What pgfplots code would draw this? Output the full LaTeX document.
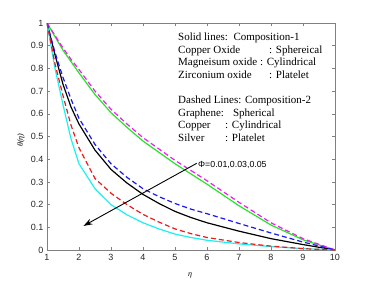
\documentclass[border=0pt]{standalone}
\usepackage{fontspec}
\setmainfont{Liberation Serif}
\newfontfamily\arial{Liberation Sans}
\usepackage{pgfplots}
\pgfplotsset{compat=1.18}
\usetikzlibrary{arrows.meta}
\definecolor{mgreen}{rgb}{0.15,0.9,0.15}
\definecolor{mblue}{rgb}{0.1,0.1,0.95}
\definecolor{mred}{rgb}{0.95,0.1,0.1}
\definecolor{mcyan}{rgb}{0.1,0.95,0.95}
\definecolor{mmag}{rgb}{0.95,0.1,0.95}
\begin{document}
\begin{tikzpicture}
\useasboundingbox (-47pt,-43pt) rectangle (329pt,250pt);
\begin{axis}[
  at={(0pt,0pt)}, anchor=south west,
  scale only axis, width=288pt, height=227pt,
  xmin=1, xmax=10, ymin=0, ymax=1,
  xtick={1,2,...,10}, ytick={0,0.1,0.2,0.3,0.4,0.5,0.6,0.7,0.8,0.9,1},
  yticklabels={0,0.1,0.2,0.3,0.4,0.5,0.6,0.7,0.8,0.9,1},
  tick align=inside, tick pos=both, major tick length=3pt,
  axis line style={draw=black!50, line width=0.5pt},
  every tick/.style={black!50, line width=0.5pt},
  /pgf/number format/assume math mode=true,
  tick label style={font=\arial\fontsize{9}{10}\selectfont, text=black!85},
  xticklabel style={yshift=-1pt},
  line join=round,
]
% Composition-1 (solid)
\addplot[mgreen, line width=1.2pt] coordinates {
(1,1) (1.25,0.94) (1.5,0.88) (1.75,0.83) (2,0.78) (2.5,0.685) (3,0.605) (3.5,0.54) (4,0.48) (4.5,0.43) (5,0.38) (5.5,0.335) (6,0.29) (7,0.195) (8,0.11) (9,0.045) (10,0)};
\addplot[black, line width=1.2pt] coordinates {
(1,1) (1.25,0.86) (1.5,0.73) (1.75,0.63) (2,0.555) (2.5,0.44) (3,0.355) (3.5,0.295) (4,0.245) (4.5,0.205) (5,0.17) (5.5,0.143) (6,0.12) (7,0.083) (8,0.05) (9,0.024) (10,0)};
\addplot[mcyan, line width=1.2pt] coordinates {
(1,1) (1.25,0.80) (1.5,0.64) (1.75,0.49) (2,0.38) (2.5,0.27) (3,0.2) (3.5,0.155) (4,0.12) (4.5,0.093) (5,0.07) (5.5,0.055) (6,0.043) (7,0.027) (8,0.015) (9,0.006) (10,0)};
% Composition-2 (dashed)
\addplot[mmag, line width=1.2pt, dash pattern=on 5pt off 3pt] coordinates {
(1,1) (1.25,0.945) (1.5,0.89) (1.75,0.84) (2,0.795) (2.5,0.70) (3,0.62) (3.5,0.555) (4,0.495) (4.5,0.445) (5,0.395) (5.5,0.35) (6,0.305) (7,0.21) (8,0.12) (9,0.05) (10,0)};
\addplot[mblue, line width=1.2pt, dash pattern=on 5pt off 3pt] coordinates {
(1,1) (1.25,0.87) (1.5,0.76) (1.75,0.665) (2,0.58) (2.5,0.465) (3,0.38) (3.5,0.32) (4,0.27) (4.5,0.235) (5,0.205) (5.5,0.18) (6,0.16) (7,0.117) (8,0.075) (9,0.035) (10,0)};
\addplot[mred, line width=1.2pt, dash pattern=on 5pt off 3pt] coordinates {
(1,1) (1.25,0.82) (1.5,0.68) (1.75,0.55) (2,0.45) (2.5,0.315) (3,0.25) (3.5,0.2) (4,0.157) (4.5,0.123) (5,0.093) (5.5,0.072) (6,0.055) (7,0.033) (8,0.017) (9,0.006) (10,0)};
\draw[black, line width=0.9pt, -{Stealth[length=9pt,width=6pt]}] (axis cs:5.68,0.382) -- (axis cs:2.14,0.106);
\end{axis}
\node[anchor=base west, inner sep=0pt, font=\arial\fontsize{8.8}{10}\selectfont] at (151pt,82.5pt) {Φ=0.01,0.03,0.05};
\begin{scope}[every node/.style={anchor=base west, inner sep=0pt, font=\fontsize{11}{12}\selectfont}]
\node at (131pt,209.8pt) {Solid lines:\ \ Composition-1};
\node at (131pt,196.5pt) {\makebox[91pt][l]{Copper Oxide}: Sphereical};
\node at (131pt,184.2pt) {Magneisum oxide : Cylindrical};
\node at (131pt,171.5pt) {\makebox[91pt][l]{Zirconium oxide}: Platelet};
\node at (131pt,146.5pt) {Dashed Lines: Composition-2};
\node at (131pt,133.8pt) {Graphene:\hspace{9pt}Spherical};
\node at (131pt,121.5pt) {\makebox[47pt][l]{Copper}: Cylindrical};
\node at (131pt,108.8pt) {\makebox[47pt][l]{Silver}: Platelet};
\end{scope}
\node[rotate=90, font=\fontsize{8}{9}\selectfont\itshape] at (-26pt,110pt) {θ(η)};
\node[font=\fontsize{8}{9}\selectfont\itshape] at (143pt,-25pt) {η};
\end{tikzpicture}
\end{document}
